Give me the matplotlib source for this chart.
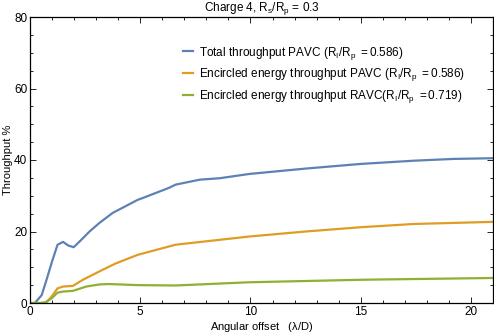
import numpy as np
import matplotlib
matplotlib.use("Agg")
import matplotlib.pyplot as plt
from matplotlib.ticker import MultipleLocator

plt.rcParams['font.family'] = ['Liberation Sans', 'DejaVu Sans']
plt.rcParams['mathtext.fontset'] = 'custom'
plt.rcParams['mathtext.rm'] = 'Liberation Sans'
plt.rcParams['mathtext.it'] = 'Liberation Sans'

# curves (angular offset in lambda/D, throughput in %)
x_total = [0, 0.22, 0.53, 0.75, 1.02, 1.25, 1.5, 1.73, 1.98, 2.25, 2.7, 3.15, 3.75,
           4.9, 5.0, 6.3, 6.6, 7.7, 8.6, 9.95, 12.5, 15.0, 17.4, 19.2, 21.0]
y_total = [0, 0, 2.2, 6.5, 12.0, 16.3, 17.1, 16.1, 15.6, 17.2, 20.0, 22.4, 25.2,
           28.9, 29.1, 32.2, 33.1, 34.5, 34.9, 36.1, 37.6, 38.9, 39.8, 40.3, 40.5]

x_ee_pavc = [0, 0.5, 0.75, 0.98, 1.25, 1.5, 1.95, 2.4, 3.3, 3.9, 4.9, 6.6, 9.95,
             12.5, 15.0, 17.4, 21.0]
y_ee_pavc = [0, 0, 0.2, 1.8, 4.1, 4.6, 4.8, 6.5, 9.3, 11.1, 13.5, 16.3, 18.6,
             20.0, 21.2, 22.1, 22.7]

x_ee_ravc = [0, 0.5, 0.7, 0.98, 1.25, 1.5, 1.95, 2.55, 3.15, 3.6, 4.9, 6.6, 9.95,
             15.0, 21.0]
y_ee_ravc = [0, 0, 0.2, 1.3, 2.9, 3.2, 3.4, 4.6, 5.2, 5.3, 5.0, 4.9, 5.8,
             6.5, 7.0]

labels = [r'Total throughput PAVC $\mathregular{(R_I/R_p\ =0.586)}$',
          r'Encircled energy throughput PAVC $\mathregular{(R_I/R_p\ =0.586)}$',
          r'Encircled energy throughput RAVC$\mathregular{(R_I/R_p\ =0.719)}$']
colors = ['#5E81B5', '#E19C24', '#8FB032']

fig = plt.figure(figsize=(4.94, 3.34), dpi=100)
ax = fig.add_axes([30 / 494, 31 / 334, 463 / 494, 286 / 334])

for xs, ys, c, lab in zip([x_total, x_ee_pavc, x_ee_ravc],
                          [y_total, y_ee_pavc, y_ee_ravc], colors, labels):
    ax.plot(xs, ys, color=c, lw=1.6, label=lab)

ax.set_xlim(0, 21)
ax.set_ylim(0, 80)
ax.xaxis.set_major_locator(MultipleLocator(5))
ax.xaxis.set_minor_locator(MultipleLocator(1))
ax.yaxis.set_major_locator(MultipleLocator(20))
ax.yaxis.set_minor_locator(MultipleLocator(5))
ax.tick_params(which='both', direction='in', top=True, right=True, labelsize=8.5,
               pad=2, width=0.6)
ax.tick_params(which='major', length=4)
ax.tick_params(which='minor', length=2)
for s in ax.spines.values():
    s.set_linewidth(0.9)

ax.set_xlabel(r'Angular offset   ($\lambda$/D)', fontsize=8)
ax.set_ylabel('Throughput %', fontsize=8)
ax.xaxis.set_label_coords(0.5, -0.058)
ax.yaxis.set_label_coords(-0.036, 0.5)
ax.set_title(r'Charge 4, $\mathregular{R_s/R_p}$ = 0.3', fontsize=8.5, pad=4)

ax.legend(loc='upper left', bbox_to_anchor=(172 / 494, 1 - 34 / 334),
          bbox_transform=fig.transFigure, frameon=False, fontsize=8.5,
          handlelength=0.9, handletextpad=0.5, labelspacing=0.4)

fig.savefig('out.png', dpi=100)
